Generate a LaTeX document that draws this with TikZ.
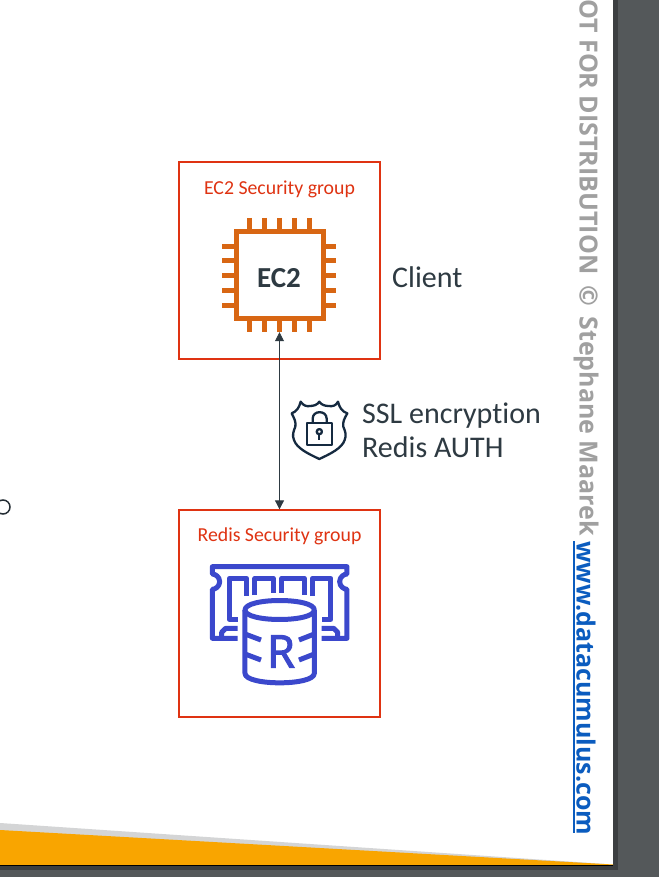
\documentclass[tikz,border=0pt]{standalone}
\usepackage{fontspec}
\setmainfont[Ligatures=NoCommon]{Carlito}
\newfontfamily\wmfont{Open Sans}
\newfontfamily\rfont[FakeBold=2.5]{Open Sans}
\usetikzlibrary{arrows.meta,calc}
\definecolor{slatebg}{HTML}{54585A}
\definecolor{awsred}{HTML}{DF3312}
\definecolor{chiporange}{HTML}{D86613}
\definecolor{dbblue}{HTML}{3B48CC}
\definecolor{inkdark}{HTML}{2E3A42}
\definecolor{shieldink}{HTML}{152A40}
\definecolor{wmgrey}{HTML}{A0A0A0}
\definecolor{linkblue}{HTML}{0B5CBF}
\definecolor{band}{HTML}{F9A500}
\definecolor{bandshade}{HTML}{D4D5D6}
\tikzset{
  groupbox/.style={draw=awsred,line width=1.3pt,minimum width=201pt,inner sep=0pt,fill=white},
  grouplabel/.style={text=awsred,font=\fontsize{19.8}{21}\selectfont,inner sep=0pt,anchor=base},
  infotext/.style={text=inkdark,font=\fontsize{30}{32}\selectfont,inner sep=0pt,anchor=base west},
  pin/.style={draw=chiporange,line width=5pt},
  dbline/.style={draw=dbblue,line width=5pt,line join=round},
  shieldline/.style={draw=shieldink,line width=2.3pt,line join=round},
  link/.style={draw=inkdark,line width=0.8pt,{Triangle[length=9pt,width=9pt]}-{Triangle[length=9pt,width=9pt]}},
  mark text/.style={rotate=-90,anchor=west,inner sep=0pt,font=\wmfont\bfseries\fontsize{25}{27}\selectfont}
}
\begin{document}
\begin{tikzpicture}[x=1pt,y=-1pt]
\useasboundingbox (0,0) rectangle (659,877);
% backdrop
\fill[slatebg] (0,0) rectangle (659,877);
\fill[black!28!slatebg] (613,0) rectangle (618,870);
\fill[black!28!slatebg] (0,865) rectangle (618,870);
\fill[white] (0,0) rectangle (613,865);
\fill[bandshade] (0,823) -- (613,864.5) -- (0,864.5) -- cycle;
\fill[band] (0,830) -- (613,864.5) -- (613,865) -- (0,865) -- cycle;
\draw[black,line width=0.7pt] (0,865.2) -- (613,865.2);
\draw[inkdark!80!black,line width=1.5pt] (3,507) circle (7pt);
% groups
\node[groupbox,minimum height=197pt] (ec2box) at (279.5,260.5) {};
\node[groupbox,minimum height=207pt] (redisbox) at (279.5,613.5) {};
\node[grouplabel] (ec2label) at (279.5,194.5) {EC2 Security group};
\node[grouplabel] (redislabel) at (279.5,541) {Redis Security group};
% EC2 chip
\foreach \p in {249,264,279,294,309}{
  \draw[pin] (\p,218) -- (\p,332);
}
\foreach \p in {246,260.5,275,290,305}{
  \draw[pin] (222,\p) -- (336,\p);
}
\node[draw=chiporange,line width=5pt,fill=white,minimum width=87pt,minimum height=87pt,inner sep=0pt] (ec2chip) at (279.5,275) {};
\node[text=inkdark,inner sep=0pt,anchor=base,font=\bfseries\fontsize{29}{31}\selectfont] (ec2text) at (279,287.5) {EC2};
\node[minimum width=114pt,minimum height=114pt,inner sep=0pt] (ec2icon) at (279.5,275) {};
\node[infotext] (client) at (392,287.5) {Client};
% arrow
\draw[link] (ec2icon.south) -- (redisbox.north);
% shield
\begin{scope}[shift={(270,380)},x=0.3333pt,y=-0.3333pt]
\draw[shieldline] (65,100) .. controls (80,95) and (88,82) .. (92,65)
  .. controls (100,78) and (112,80) .. (120,78) .. controls (130,78) and (142,75) .. (148,65)
  .. controls (154,75) and (166,78) .. (176,78) .. controls (186,80) and (198,78) .. (204,65)
  .. controls (208,82) and (216,95) .. (232,100)
  .. controls (222,118) and (218,125) .. (220,140) .. controls (226,155) and (230,165) .. (224,180)
  .. controls (216,205) and (180,222) .. (148,237)
  .. controls (116,222) and (80,205) .. (72,180) .. controls (66,165) and (70,155) .. (76,140)
  .. controls (78,125) and (74,118) .. (65,100) -- cycle;
\draw[shieldline] (112,130) rectangle (186,194);
\draw[shieldline] (128,130) -- (128,116) .. controls (128,90) and (170,90) .. (170,116) -- (170,130);
\draw[shieldline] (148,155) circle (2.6pt);
\draw[shieldline] (148,163) -- (148,181);
\end{scope}
\node[infotext] (ssl) at (362,423) {SSL encryption};
\node[infotext] (auth) at (362,457) {Redis AUTH};
% Redis icon
\begin{scope}[shift={(205,560)},x=0.3333pt,y=-0.3333pt]
\draw[dbline] (98,235) -- (22,235) -- (22,88) .. controls (30,88) and (44,80) .. (44,65)
  .. controls (44,50) and (30,42) .. (22,42) -- (22,20) -- (426,20) -- (426,42)
  .. controls (418,42) and (404,50) .. (404,65) .. controls (404,80) and (418,88) .. (426,88)
  -- (426,235) -- (350,235);
\draw[dbline] (98,205) -- (62,205) -- (50,217) -- (50,235);
\draw[dbline] (350,205) -- (386,205) -- (398,217) -- (398,235);
\draw[dbline] (98,178) -- (73,178) -- (73,55) -- (125,55) -- (125,108);
\draw[dbline] (150,105) -- (150,55) -- (205,55) -- (205,100);
\draw[dbline] (230,98) -- (230,55) -- (298,55) -- (298,105);
\draw[dbline] (322,108) -- (322,55) -- (378,55) -- (378,178) -- (350,178);
\fill[white] (120,150) .. controls (120,110) and (328,110) .. (328,150) -- (328,340) .. controls (328,380) and (120,380) .. (120,340) -- cycle;
\draw[dbline] (120,150) .. controls (120,112) and (328,112) .. (328,150) .. controls (328,188) and (120,188) .. (120,150) -- cycle;
\draw[dbline] (120,150) -- (120,340) .. controls (120,378) and (328,378) .. (328,340) -- (328,150);
\draw[dbline] (120,222) -- (168,240);
\draw[dbline] (120,282) -- (168,300);
\draw[dbline] (328,222) -- (282,240);
\draw[dbline] (328,282) -- (282,300);
\end{scope}
\node[inner sep=0pt,text=dbblue,font=\rfont\fontsize{45}{47}\selectfont] (rglyph) at (281,651.5) {R};
% watermark
\node[mark text,text=wmgrey] (wmark) at (586,-1) {OT FOR DISTRIBUTION \,©\, Stephane Maarek};
\node[mark text,text=linkblue] (wlink) at (586,541) {www.datacumulus.com};
\draw[draw=linkblue,line width=1.2pt] (574,541) -- (574,833);
\end{tikzpicture}
\end{document}
